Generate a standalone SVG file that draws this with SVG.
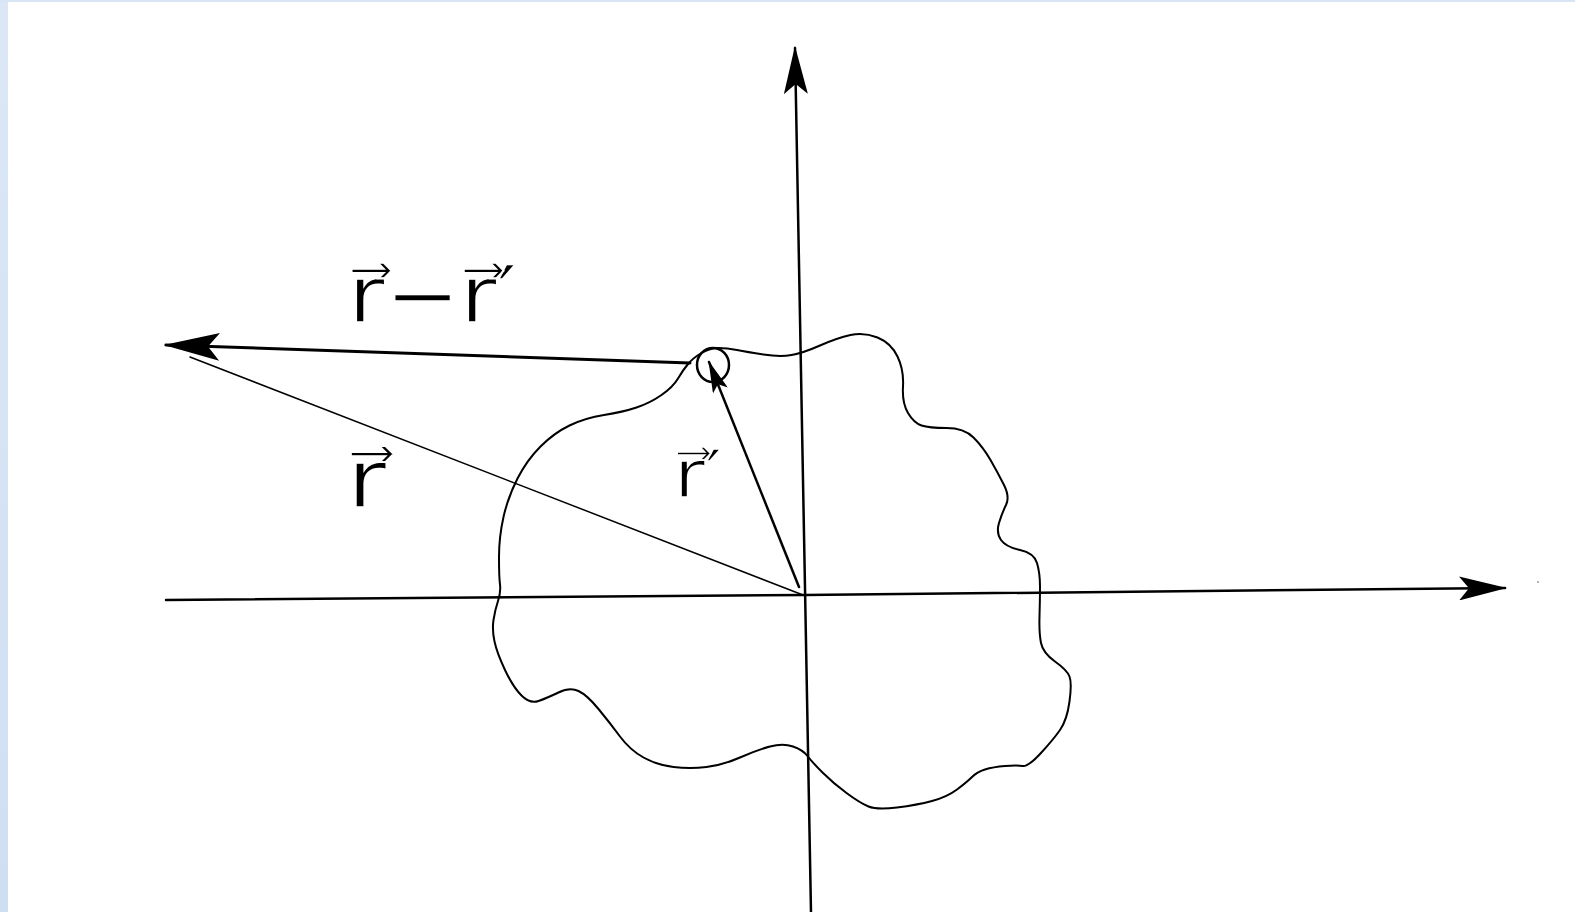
<svg xmlns="http://www.w3.org/2000/svg" width="1575" height="912" viewBox="0 0 1575 912">
<style>
.ink{fill:none;stroke:#000;stroke-linecap:round;stroke-linejoin:round}
.lbl{font-family:"DejaVu Sans","Liberation Sans",sans-serif;font-weight:normal;fill:#000;stroke:#fff;stroke-width:1.6;paint-order:fill}
</style>
<defs>
<linearGradient id="edge" x1="0" y1="0" x2="0" y2="1">
<stop offset="0" stop-color="#dbe7f5"/>
<stop offset="1" stop-color="#cfdff2"/>
</linearGradient>
<marker id="head" markerUnits="userSpaceOnUse" viewBox="0 0 48 24" markerWidth="48" markerHeight="24" refX="46" refY="12" orient="auto">
<path d="M0,0 L48,12 L0,24 L10,12 Z" fill="#000"/>
</marker>
<marker id="headBig" markerUnits="userSpaceOnUse" viewBox="0 0 48 24" markerWidth="56" markerHeight="30" refX="46" refY="12" orient="auto">
<path d="M0,0 L48,12 L0,24 L10,12 Z" fill="#000"/>
</marker>
<marker id="headSmall" markerUnits="userSpaceOnUse" viewBox="0 0 48 24" markerWidth="40" markerHeight="16" refX="46" refY="12" orient="auto">
<path d="M0,0 L48,12 L0,24 L10,12 Z" fill="#000"/>
</marker>
</defs>
<rect x="0" y="0" width="1575" height="912" fill="#fff"/>
<rect x="0" y="0" width="8" height="912" fill="url(#edge)"/>
<rect x="0" y="0" width="1575" height="2" fill="#d8e5f4"/>

<g id="region">
<path class="ink" stroke-width="2" d="M688,364 Q693,358 701.5,353 Q710,348 718.5,348 Q727,348 737,350 Q747,352 763.5,354.5 Q780,357 791.5,355 Q803,353 820,345.5 Q837,338 850.5,335 Q864,332 877.5,337.5 Q891,343 897.5,356.5 Q904,370 903,386.5 Q902,403 908,413 Q914,423 921.5,425.5 Q929,428 946.5,428 Q964,428 973.5,437.5 Q983,447 990.5,460 Q998,473 1004,485 Q1010,497 1006,505 Q1002,513 999,523 Q996,533 1001,540 Q1006,547 1020,550 Q1034,553 1037,563 Q1040,573 1040,586.5 Q1040,600 1039.5,616.5 Q1039,633 1041,643 Q1043,653 1055,661.5 Q1067,670 1069.5,676.5 Q1072,683 1069.5,701.5 Q1067,720 1060,730 Q1053,740 1040.5,753.5 Q1028,767 1022.5,766 Q1017,765 1005,766 Q993,767 985,769.5 Q977,772 972,777 Q967,782 957,789.5 Q947,797 932,801 Q917,805 897,807.5 Q877,810 868.5,806.5 Q860,803 846.5,793 Q833,783 822.5,772.5 Q812,762 807.5,756 Q803,750 793,746.5 Q783,743 770,746.5 Q757,750 740,757.5 Q723,765 706.5,767 Q690,769 673.5,767 Q657,765 643.5,757.5 Q630,750 620,736.5 Q610,723 598.5,709 Q587,695 578.5,691 Q570,687 558.5,692.5 Q547,698 538.5,701 Q530,704 521.5,695.5 Q513,687 505,670 Q497,653 494.5,641.5 Q492,630 493.5,620 Q495,610 498,601 Q501,592 500,584.5 Q499,577 499,557 Q499,537 503.5,517 Q508,497 517.5,478.5 Q527,460 540.5,446.5 Q554,433 569.5,425.5 Q585,418 604,415 Q623,412 636.5,407.5 Q650,403 661.5,395 Q673,387 678,378.5 Q683,370 688,364 Z"/>
</g>

<g id="source-point">
<ellipse class="ink" stroke-width="2.5" cx="713" cy="365" rx="16" ry="17"/>
</g>

<g id="axes">
<path class="ink" stroke-width="2.5" d="M166,600 L805,595 L1505,588" marker-end="url(#head)"/>
<path class="ink" stroke-width="2.5" d="M811,912 L795,48" marker-end="url(#head)"/>
<circle cx="1538" cy="582" r="1" fill="#999"/>
</g>

<g id="connectors">
<path class="ink" stroke-width="3" d="M690,363 L166,345" marker-end="url(#headBig)"/>
<path class="ink" stroke-width="1.5" d="M803,595 L190,357"/>
<path class="ink" stroke-width="2.5" d="M799,587 L709,362" marker-end="url(#headSmall)"/>
</g>

<g id="labels">
<text class="lbl" transform="translate(348,322) scale(1.15,1)" font-size="78">r⃗−r⃗′</text>
<text class="lbl" transform="translate(347,507) scale(1.2,1)" font-size="80">r⃗</text>
<text class="lbl" transform="translate(674,497) scale(1.15,1)" font-size="66">r⃗′</text>
</g>
</svg>
